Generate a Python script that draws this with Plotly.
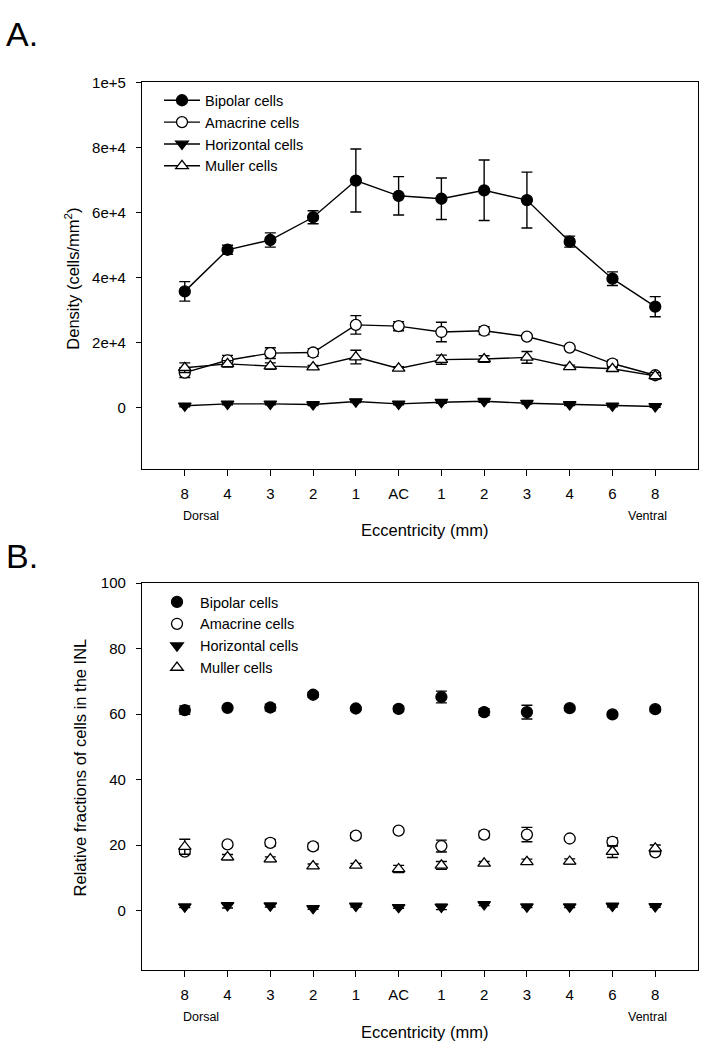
import plotly.graph_objects as go

W, H = 719, 1050

# ---------------- data ----------------
ecc_pos = list(range(1, 13))
ecc_labels = ["8", "4", "3", "2", "1", "AC", "1", "2", "3", "4", "6", "8"]

# Panel A: density (cells/mm^2)
bip_den = [35700, 48500, 51500, 58500, 69800, 65100, 64200, 66800, 63800, 51000, 39600, 31000]
bip_den_err = [3000, 1400, 2200, 2000, 9700, 5900, 6400, 9300, 8600, 1700, 2100, 3100]
ama_den = [10700, 14500, 16700, 16900, 25400, 25000, 23200, 23600, 21800, 18400, 13500, 9900]
ama_den_err = [1500, 1500, 1650, 1200, 2850, 1400, 3000, 1200, 500, 500, 1000, 800]
hor_den = [500, 1100, 1100, 900, 1800, 1100, 1600, 1900, 1300, 900, 500, 300]
hor_den_err = [300, 300, 300, 300, 300, 300, 300, 300, 300, 300, 300, 300]
mul_den = [12200, 13400, 12700, 12400, 15500, 12000, 14700, 14900, 15400, 12500, 11900, 9700]
mul_den_err = [1500, 1000, 1000, 500, 2100, 500, 1400, 1000, 1800, 500, 500, 1000]

# Panel B: relative fractions (%)
bip_frac = [61.2, 61.9, 62.0, 65.9, 61.7, 61.6, 65.2, 60.6, 60.6, 61.8, 59.9, 61.5]
bip_frac_err = [1.3, 0.5, 1.0, 0.8, 0.5, 0.8, 1.8, 1.0, 2.1, 0.5, 0.4, 0.7]
ama_frac = [18.0, 20.2, 20.7, 19.6, 22.9, 24.4, 19.7, 23.2, 23.2, 22.0, 21.0, 17.8]
ama_frac_err = [0.8, 0.6, 1.0, 1.0, 0.9, 0.3, 1.8, 1.0, 2.2, 0.3, 1.2, 0.4]
hor_frac = [1.2, 1.6, 1.5, 0.7, 1.4, 1.0, 1.1, 1.9, 1.2, 1.2, 1.4, 1.3]
hor_frac_err = [0.3, 0.8, 0.4, 0.3, 0.3, 0.3, 0.8, 0.4, 0.3, 0.3, 0.3, 0.3]
mul_frac = [19.5, 16.3, 15.7, 13.6, 13.8, 12.7, 13.8, 14.4, 14.9, 15.0, 18.0, 19.0]
mul_frac_err = [2.3, 0.8, 0.7, 0.6, 0.6, 1.1, 1.2, 0.6, 0.8, 0.8, 1.8, 1.0]

series_names = ["Bipolar cells", "Amacrine cells", "Horizontal cells", "Muller cells"]
# ---------------------------------------

FONT = "Liberation Sans, Arial, sans-serif"
BLACK = "#000000"

def py(px):
    return 1 - px / H

def px_x(px):
    return px / W

marker_styles = [
    dict(symbol="circle", color=BLACK, line=dict(color=BLACK, width=1.3)),
    dict(symbol="circle", color="white", line=dict(color=BLACK, width=1.3)),
    dict(symbol="triangle-down", color=BLACK, line=dict(color=BLACK, width=1.3)),
    dict(symbol="triangle-up", color="white", line=dict(color=BLACK, width=1.3)),
]

fig = go.Figure()

den_vals = [bip_den, ama_den, hor_den, mul_den]
den_errs = [bip_den_err, ama_den_err, hor_den_err, mul_den_err]
frac_vals = [bip_frac, ama_frac, hor_frac, mul_frac]
frac_errs = [bip_frac_err, ama_frac_err, hor_frac_err, mul_frac_err]

for name, vals, errs, ms in zip(series_names, den_vals, den_errs, marker_styles):
    fig.add_trace(go.Scatter(
        x=ecc_pos, y=vals, name=name, mode="lines+markers",
        line=dict(color=BLACK, width=1.4),
        marker=dict(size=11, **ms),
        error_y=dict(type="data", array=errs, visible=True, color=BLACK,
                     thickness=1.4, width=5.5),
        xaxis="x", yaxis="y", legend="legend",
    ))

for name, vals, errs, ms in zip(series_names, frac_vals, frac_errs, marker_styles):
    fig.add_trace(go.Scatter(
        x=ecc_pos, y=vals, name=name, mode="markers",
        marker=dict(size=11, **ms),
        error_y=dict(type="data", array=errs, visible=True, color=BLACK,
                     thickness=1.4, width=5.5),
        xaxis="x2", yaxis="y2", legend="legend2",
    ))

x_dom = [px_x(142), px_x(698)]
common_x = dict(
    range=[0, 13], tickmode="array", tickvals=ecc_pos, ticktext=ecc_labels,
    ticks="outside", ticklen=6, tickwidth=1.3, tickcolor=BLACK,
    showline=True, linecolor=BLACK, linewidth=1.3, mirror=True,
    showgrid=False, zeroline=False,
    tickfont=dict(family=FONT, size=15, color=BLACK),
    ticklabelstandoff=5,
)
common_y = dict(
    ticks="outside", ticklen=5, tickwidth=1.3, tickcolor=BLACK,
    showline=True, linecolor=BLACK, linewidth=1.3, mirror=True,
    showgrid=False, zeroline=False,
    tickfont=dict(family=FONT, size=15, color=BLACK),
    ticklabelstandoff=7,
)

fig.update_layout(
    width=W, height=H,
    margin=dict(l=0, r=0, t=0, b=0),
    paper_bgcolor="white", plot_bgcolor="white",
    font=dict(family=FONT, color=BLACK),
    xaxis=dict(domain=x_dom, anchor="y", **common_x),
    yaxis=dict(domain=[py(463.5), py(74)], anchor="x", range=[-18800, 100000],
               tickmode="array",
               tickvals=[0, 20000, 40000, 60000, 80000, 100000],
               ticktext=["0", "2e+4", "4e+4", "6e+4", "8e+4", "1e+5"],
               **common_y),
    xaxis2=dict(domain=x_dom, anchor="y2", **common_x),
    yaxis2=dict(domain=[py(969.5), py(579)], anchor="x2", range=[-18.2, 100],
                tickmode="array", tickvals=[0, 20, 40, 60, 80, 100],
                ticktext=["0", "20", "40", "60", "80", "100"],
                **common_y),
    legend=dict(x=px_x(159), y=py(76), xanchor="left", yanchor="top",
                bgcolor="rgba(0,0,0,0)", borderwidth=0,
                font=dict(family=FONT, size=14.5, color=BLACK),
                tracegroupgap=0, itemwidth=36),
    legend2=dict(x=px_x(154), y=py(582), xanchor="left", yanchor="top",
                 bgcolor="rgba(0,0,0,0)", borderwidth=0,
                 font=dict(family=FONT, size=14.5, color=BLACK),
                 tracegroupgap=0, itemwidth=36),
    showlegend=True,
)

annos = [
    dict(text="A.", x=px_x(4), y=py(25), xanchor="left", yanchor="middle", font=dict(size=34)),
    dict(text="B.", x=px_x(4), y=py(552), xanchor="left", yanchor="middle", font=dict(size=34)),
    dict(text="Density (cells/mm<sup>2</sup>)", x=px_x(72), y=py(272), textangle=-90,
         xanchor="center", yanchor="middle", font=dict(size=16.5)),
    dict(text="Relative fractions of cells in the INL", x=px_x(80), y=py(765), textangle=-90,
         xanchor="center", yanchor="middle", font=dict(size=16.5)),
    dict(text="Dorsal", x=px_x(201), y=py(511), xanchor="center", yanchor="middle", font=dict(size=12.5)),
    dict(text="Ventral", x=px_x(647), y=py(511), xanchor="center", yanchor="middle", font=dict(size=12.5)),
    dict(text="Eccentricity (mm)", x=px_x(424), y=py(525.5), xanchor="center", yanchor="middle", font=dict(size=16.5)),
    dict(text="Dorsal", x=px_x(201), y=py(1016.5), xanchor="center", yanchor="middle", font=dict(size=12.5)),
    dict(text="Ventral", x=px_x(647), y=py(1016.5), xanchor="center", yanchor="middle", font=dict(size=12.5)),
    dict(text="Eccentricity (mm)", x=px_x(424), y=py(1032), xanchor="center", yanchor="middle", font=dict(size=16.5)),
]
for a in annos:
    a.update(xref="paper", yref="paper", showarrow=False)
    a["font"] = dict(family=FONT, color=BLACK, **a["font"])
    fig.add_annotation(**a)

fig.write_html(
    "out.html",
    config={"displayModeBar": False},
    post_script="document.body.style.margin='0';document.body.style.padding='0';"
                "document.body.style.overflow='hidden';",
)
